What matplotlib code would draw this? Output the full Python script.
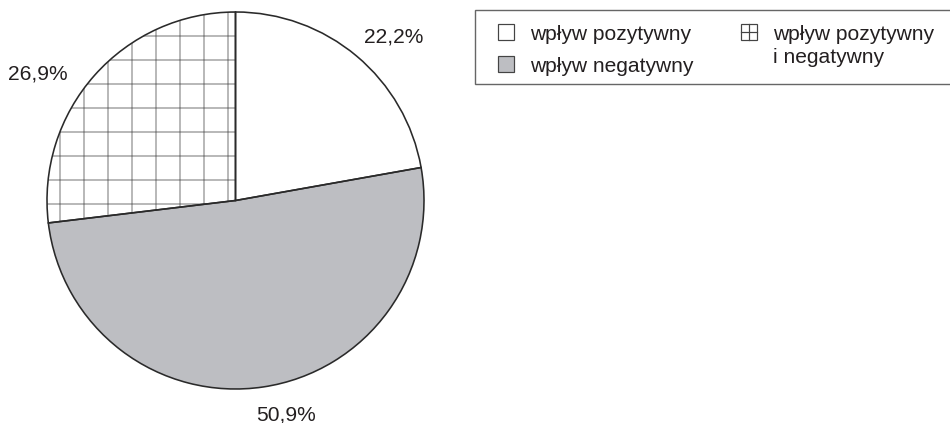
import matplotlib
matplotlib.use("Agg")
import matplotlib.pyplot as plt
from matplotlib.patches import Rectangle
from matplotlib.lines import Line2D

plt.rcParams['font.family'] = ['Liberation Sans', 'DejaVu Sans']
plt.rcParams['hatch.linewidth'] = 0.6

# data (clockwise from 12 o'clock)
categories = ['wpływ pozytywny', 'wpływ negatywny', 'wpływ pozytywny\ni negatywny']
shares = [22.2, 50.9, 26.9]
fills = ['white', '#bdbec2', 'white']
hatches = ['', '', '+']

text_col = '#231f20'
edge_col = '#2a2a2a'
hatch_col = '#8c8c8c'
W, H = 950, 423

# dpi 144 -> '+' hatch gives 24 px grid cells like the original
fig = plt.figure(figsize=(W / 144, H / 144), dpi=144)
ax = fig.add_axes([47 / W, 34 / H, 377 / W, 377 / H])

wedges, _ = ax.pie(shares, colors=fills, hatch=hatches, startangle=90,
                   counterclock=False, wedgeprops=dict(linewidth=0))
for w, h in zip(wedges, hatches):
    if h:
        w.set_edgecolor(hatch_col)
        w.set_linewidth(0)

# outlines on top
ax.pie(shares, startangle=90, counterclock=False,
       wedgeprops=dict(fill=False, edgecolor=edge_col, linewidth=0.8))

ax.set_xlim(-1, 1)
ax.set_ylim(-1, 1)
ax.set_aspect('equal')

# percentage labels, placed by hand like in the original
label_xy = [(0.84, 0.87), (0.27, -1.14), (-1.05, 0.67)]
for v, (x, y) in zip(shares, label_xy):
    ax.text(x, y, f'{v:.1f}%'.replace('.', ','), ha='center', va='center',
            fontsize=10.5, color=text_col, clip_on=False)


# legend drawn by hand (pixel positions from the top-left corner)
def fx(px):
    return px / W


def fy(py):
    return 1 - py / H


fig.add_artist(Rectangle((fx(475), fy(84)), fx(960) - fx(475), fy(10) - fy(84),
                         transform=fig.transFigure, facecolor='white',
                         edgecolor='#666666', linewidth=0.7))

slots = [(498, 24), (498, 56), (741, 24)]
side = 16
for name, fc, h, (x, y) in zip(categories, fills, hatches, slots):
    fig.add_artist(Rectangle((fx(x), fy(y + side)), fx(side), fy(0) - fy(side),
                             transform=fig.transFigure, facecolor=fc,
                             edgecolor='#444444', linewidth=0.6))
    if '+' in h:
        fig.add_artist(Line2D([fx(x + side / 2)] * 2, [fy(y), fy(y + side)],
                              transform=fig.transFigure, color='#444444', lw=0.6))
        fig.add_artist(Line2D([fx(x), fx(x + side)], [fy(y + side / 2)] * 2,
                              transform=fig.transFigure, color='#444444', lw=0.6))
    fig.text(fx(x + 32), fy(y + 1), name, ha='left', va='top',
             fontsize=10.5, color=text_col, linespacing=1.25)

fig.savefig('out.png', dpi=144, facecolor='white')
